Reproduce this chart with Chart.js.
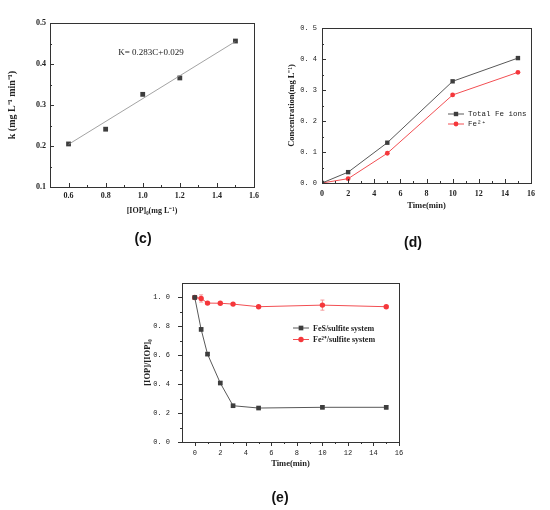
<!DOCTYPE html>
<html>
<head>
<meta charset="utf-8">
<title>IOP / FeS panels</title>
<script src="https://cdn.jsdelivr.net/npm/chart.js@4.4.1/dist/chart.umd.min.js"></script>
<style>
  body { margin: 0; background: #fff; width: 550px; height: 510px; position: relative; overflow: hidden; }
  .panel { position: absolute; }
  .panel canvas { display: block; }
  .cap { position: absolute; font: bold 14px "Liberation Sans", Arial, sans-serif; color: #111; transform: translate(-50%, -50%); }
</style>
</head>
<body>
<div class="panel" style="left:0;top:0"><canvas id="chartC" width="275" height="250"></canvas></div>
<div class="panel" style="left:275px;top:0"><canvas id="chartD" width="275" height="250"></canvas></div>
<div class="panel" style="left:130px;top:260px"><canvas id="chartE" width="300" height="250"></canvas></div>
<div class="cap" style="left:143px;top:238px">(c)</div>
<div class="cap" style="left:413px;top:242px">(d)</div>
<div class="cap" style="left:280px;top:497px">(e)</div>

<script>
// ---- data ----
// (c) rate constant vs initial IOP
const cDose = [0.6, 0.8, 1.0, 1.2, 1.5];
const cRate = [0.205, 0.241, 0.326, 0.366, 0.456];
const cFitX = [0.6, 1.5];
const cFitY = [0.204, 0.455];
const cXTicks = [0.6, 0.8, 1.0, 1.2, 1.4, 1.6];
const cYTicks = [0.1, 0.2, 0.3, 0.4, 0.5];
const cNote = 'K= 0.283C+0.029';

// (d) dissolved iron
const dTime = [0, 2, 5, 10, 15];
const dTotalFe = [0.0, 0.035, 0.130, 0.328, 0.403];
const dFe2 = [0.0, 0.014, 0.096, 0.284, 0.357];
const dXTicks = [0, 2, 4, 6, 8, 10, 12, 14, 16];
const dYTicks = [0.0, 0.1, 0.2, 0.3, 0.4, 0.5];

// (e) IOP removal
const eTime = [0, 0.5, 1, 2, 3, 5, 10, 15];
const eFeS = [1.0, 0.779, 0.608, 0.408, 0.251, 0.235, 0.240, 0.240];
const eFeSErr = [0.004, 0.010, 0.010, 0.008, 0.008, 0.005, 0.010, 0.012];
const eFe2 = [1.0, 0.993, 0.961, 0.960, 0.954, 0.936, 0.947, 0.936];
const eFe2Err = [0.004, 0.025, 0.006, 0.005, 0.005, 0.006, 0.035, 0.008];
const eXTicks = [0, 2, 4, 6, 8, 10, 12, 14, 16];
const eYTicks = [0.0, 0.2, 0.4, 0.6, 0.8, 1.0];

const SERIF = "'Liberation Serif', 'Times New Roman', serif";
const MONO = "'Liberation Mono', 'DejaVu Sans Mono', monospace";
const GRAY = '#3d3d3d';
const GRAY_LINE = '#585858';
const RED = '#f5373b';
const RED_LINE = '#f24e52';

function pts(xs, ys) {
    return xs.map((x, i) => ({ x: x, y: ys[i] }));
}

function fixTicks(values) {
    return scale => { scale.ticks = values.map(v => ({ value: v })); };
}

// Frame, tick marks, in-plot legend, note text and error bars
const decor = {
    id: 'decor',
    beforeDatasetsDraw(chart, args, opts) {
        const { ctx } = chart;
        chart.data.datasets.forEach((ds, di) => {
            if (!ds.errors) return;
            const meta = chart.getDatasetMeta(di);
            ctx.save();
            ctx.strokeStyle = ds.errorColor || ds.borderColor;
            ctx.lineWidth = 1;
            meta.data.forEach((pt, i) => {
                const raw = ds.data[i];
                const e = ds.errors[i];
                const y1 = chart.scales.y.getPixelForValue(raw.y + e);
                const y2 = chart.scales.y.getPixelForValue(raw.y - e);
                ctx.beginPath();
                ctx.moveTo(pt.x, y1); ctx.lineTo(pt.x, y2);
                ctx.moveTo(pt.x - 2, y1); ctx.lineTo(pt.x + 2, y1);
                ctx.moveTo(pt.x - 2, y2); ctx.lineTo(pt.x + 2, y2);
                ctx.stroke();
            });
            ctx.restore();
        });
    },
    afterDraw(chart, args, opts) {
        const { ctx, chartArea: a } = chart;
        const xs = chart.scales.x, ys = chart.scales.y;
        const dir = opts.tickDir || 1;
        const len = opts.tickLen || 4;
        ctx.save();
        ctx.strokeStyle = '#333';
        ctx.lineWidth = 1;
        ctx.strokeRect(Math.round(a.left) + 0.5, Math.round(a.top) + 0.5,
            Math.round(a.right - a.left), Math.round(a.bottom - a.top));

        ctx.beginPath();
        const xv = xs.ticks.map(t => t.value);
        xv.forEach((v, i) => {
            const px = Math.round(xs.getPixelForValue(v)) + 0.5;
            ctx.moveTo(px, a.bottom); ctx.lineTo(px, a.bottom - dir * len);
            if (i < xv.length - 1) {
                const m = Math.round(xs.getPixelForValue((v + xv[i + 1]) / 2)) + 0.5;
                ctx.moveTo(m, a.bottom); ctx.lineTo(m, a.bottom - dir * len / 2);
            }
        });
        const yv = ys.ticks.map(t => t.value);
        yv.forEach((v, i) => {
            const py = Math.round(ys.getPixelForValue(v)) + 0.5;
            ctx.moveTo(a.left, py); ctx.lineTo(a.left + dir * len, py);
            if (i < yv.length - 1) {
                const m = Math.round(ys.getPixelForValue((v + yv[i + 1]) / 2)) + 0.5;
                ctx.moveTo(a.left, m); ctx.lineTo(a.left + dir * len / 2, m);
            }
        });
        ctx.stroke();

        if (opts.note) {
            const n = opts.note;
            ctx.fillStyle = '#222';
            ctx.font = n.font;
            ctx.textBaseline = 'middle';
            ctx.fillText(n.text, xs.getPixelForValue(n.x), ys.getPixelForValue(n.y));
        }

        if (opts.legend) {
            const lg = opts.legend;
            let row = 0;
            chart.data.datasets.forEach(ds => {
                if (!ds.label) return;
                const y = a.top + lg.y + row * lg.rowH;
                const x = a.left + lg.x;
                ctx.strokeStyle = ds.borderColor;
                ctx.lineWidth = 1;
                ctx.beginPath();
                ctx.moveTo(x, y); ctx.lineTo(x + 16, y);
                ctx.stroke();
                ctx.fillStyle = ds.pointBackgroundColor;
                ctx.strokeStyle = ds.pointBackgroundColor;
                Chart.helpers.drawPoint(ctx, {
                    pointStyle: ds.pointStyle, radius: ds.pointRadius, rotation: 0, borderWidth: 0
                }, x + 8, y);
                ctx.fillStyle = '#222';
                ctx.font = lg.font;
                ctx.textBaseline = 'middle';
                ctx.fillText(ds.label, x + 20, y + 0.5);
                row++;
            });
        }
        ctx.restore();
    }
};

Chart.defaults.animation = false;
Chart.defaults.color = '#222';

// ---- (c) ----
new Chart(document.getElementById('chartC'), {
    type: 'scatter',
    data: {
        datasets: [
            {
                data: pts(cFitX, cFitY),
                showLine: true,
                borderColor: '#8c8c8c',
                borderWidth: 0.8,
                pointRadius: 0
            },
            {
                data: pts(cDose, cRate),
                pointStyle: 'rect',
                pointRadius: 3.4,
                pointBackgroundColor: GRAY,
                pointBorderColor: GRAY,
                pointBorderWidth: 0
            }
        ]
    },
    plugins: [decor],
    options: {
        responsive: false,
        layout: { padding: { left: 0, right: 21, top: 23, bottom: 34 } },
        plugins: {
            legend: { display: false },
            tooltip: { enabled: false },
            decor: {
                tickDir: 1, tickLen: 4,
                note: { text: cNote, x: 0.868, y: 0.427, font: "9px " + SERIF }
            }
        },
        scales: {
            x: {
                type: 'linear', min: 0.5, max: 1.6,
                afterBuildTicks: fixTicks(cXTicks),
                afterFit(s) { s.height = 29; },
                grid: { display: false, drawTicks: false },
                border: { display: false },
                ticks: { padding: 4, font: { family: SERIF, size: 8, weight: 'bold' }, callback: v => v.toFixed(1) },
                title: { display: true, text: '[IOP]₀(mg L⁻¹)', padding: 0, font: { family: SERIF, size: 8, weight: 'bold' } }
            },
            y: {
                type: 'linear', min: 0.1, max: 0.5,
                afterBuildTicks: fixTicks(cYTicks),
                afterFit(s) { s.width = 50; },
                grid: { display: false, drawTicks: false },
                border: { display: false },
                ticks: { padding: 4, font: { family: SERIF, size: 8, weight: 'bold' }, callback: v => v.toFixed(1) },
                title: { display: true, text: 'k (mg L⁻¹ min⁻¹)', padding: { top: 6, bottom: 0 }, font: { family: SERIF, size: 10, weight: 'bold' } }
            }
        }
    }
});

// ---- (d) ----
new Chart(document.getElementById('chartD'), {
    type: 'line',
    data: {
        datasets: [
            {
                label: 'Total Fe ions',
                data: pts(dTime, dTotalFe),
                borderColor: GRAY_LINE,
                borderWidth: 1,
                pointStyle: 'rect',
                pointRadius: 3.1,
                pointBackgroundColor: GRAY,
                pointBorderColor: GRAY,
                pointBorderWidth: 0
            },
            {
                label: 'Fe²⁺',
                data: pts(dTime, dFe2),
                borderColor: RED_LINE,
                borderWidth: 1,
                pointStyle: 'circle',
                pointRadius: 2.4,
                pointBackgroundColor: RED,
                pointBorderColor: RED,
                pointBorderWidth: 0
            }
        ]
    },
    plugins: [decor],
    options: {
        responsive: false,
        layout: { padding: { left: 0, right: 19, top: 28, bottom: 39 } },
        plugins: {
            legend: { display: false },
            tooltip: { enabled: false },
            decor: {
                tickDir: 1, tickLen: 4,
                legend: { x: 126, y: 86, rowH: 10, font: "7.5px " + MONO }
            }
        },
        scales: {
            x: {
                type: 'linear', min: 0, max: 16,
                afterBuildTicks: fixTicks(dXTicks),
                afterFit(s) { s.height = 28; },
                grid: { display: false, drawTicks: false },
                border: { display: false },
                ticks: { padding: 6, font: { family: SERIF, size: 8, weight: 'bold' }, callback: v => String(v) },
                title: { display: true, text: 'Time(min)', padding: 0, font: { family: SERIF, size: 8.5, weight: 'bold' } }
            },
            y: {
                type: 'linear', min: 0, max: 0.5,
                afterBuildTicks: fixTicks(dYTicks),
                afterFit(s) { s.width = 47; },
                grid: { display: false, drawTicks: false },
                border: { display: false },
                ticks: { padding: 5, font: { family: MONO, size: 7 }, callback: v => v.toFixed(1).replace('.', '. ') },
                title: { display: true, text: 'Concentration(mg L⁻¹)', padding: { top: 12, bottom: 0 }, font: { family: SERIF, size: 8.5, weight: 'bold' } }
            }
        }
    }
});

// ---- (e) ----
new Chart(document.getElementById('chartE'), {
    type: 'line',
    data: {
        datasets: [
            {
                label: 'FeS/sulfite system',
                data: pts(eTime, eFeS),
                errors: eFeSErr,
                errorColor: '#8a8a8a',
                borderColor: GRAY_LINE,
                borderWidth: 1,
                pointStyle: 'rect',
                pointRadius: 3.3,
                pointBackgroundColor: GRAY,
                pointBorderColor: GRAY,
                pointBorderWidth: 0
            },
            {
                label: 'Fe²⁺/sulfite system',
                data: pts(eTime, eFe2),
                errors: eFe2Err,
                errorColor: '#f59a9c',
                borderColor: RED_LINE,
                borderWidth: 1,
                pointStyle: 'circle',
                pointRadius: 2.7,
                pointBackgroundColor: RED,
                pointBorderColor: RED,
                pointBorderWidth: 0
            }
        ]
    },
    plugins: [decor],
    options: {
        responsive: false,
        layout: { padding: { left: 0, right: 31, top: 23, bottom: 41 } },
        plugins: {
            legend: { display: false },
            tooltip: { enabled: false },
            decor: {
                tickDir: -1, tickLen: 4,
                legend: { x: 111, y: 45, rowH: 11.5, font: "bold 8px " + SERIF }
            }
        },
        scales: {
            x: {
                type: 'linear', min: -1, max: 16,
                afterBuildTicks: fixTicks(eXTicks),
                afterFit(s) { s.height = 27; },
                grid: { display: false, drawTicks: false },
                border: { display: false },
                ticks: { padding: 7, font: { family: MONO, size: 7 }, callback: v => String(v) },
                title: { display: true, text: 'Time(min)', padding: 0, font: { family: SERIF, size: 8.5, weight: 'bold' } }
            },
            y: {
                type: 'linear', min: 0, max: 1.1,
                afterBuildTicks: fixTicks(eYTicks),
                afterFit(s) { s.width = 52; },
                grid: { display: false, drawTicks: false },
                border: { display: false },
                ticks: { padding: 12, font: { family: MONO, size: 7 }, callback: v => v.toFixed(1).replace('.', '. ') },
                title: { display: true, text: '[IOP]/[IOP]₀', padding: { top: 13, bottom: 0 }, font: { family: SERIF, size: 8.5, weight: 'bold' } }
            }
        }
    }
});
</script>
</body>
</html>
